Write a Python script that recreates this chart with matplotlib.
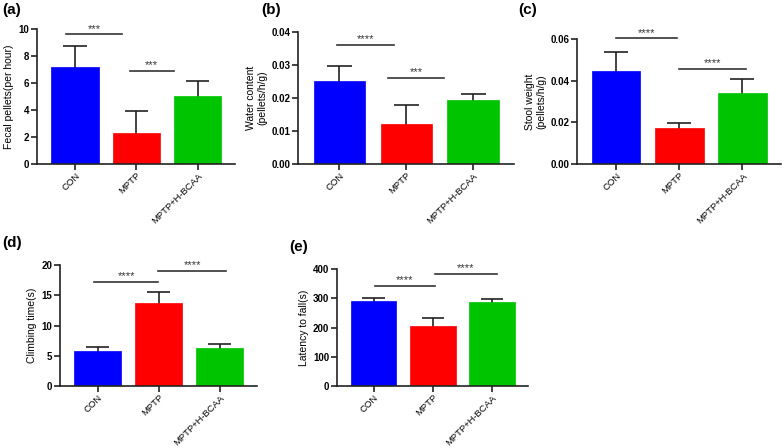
import numpy as np
import matplotlib.pyplot as plt

plt.rcParams['font.family'] = ['Liberation Sans', 'DejaVu Sans']

groups = ['CON', 'MPTP', 'MPTP+H-BCAA']
colors = ['#0000ff', '#ff0000', '#00c400']

# means and upper SD
fecal_mean = [7.2, 2.3, 5.0]
fecal_err = [1.55, 1.65, 1.15]
water_mean = [0.0253, 0.012, 0.0195]
water_err = [0.0043, 0.006, 0.0018]
stool_mean = [0.0447, 0.0172, 0.0343]
stool_err = [0.009, 0.0025, 0.0067]
climb_mean = [5.8, 13.7, 6.35]
climb_err = [0.65, 1.8, 0.65]
latency_mean = [292, 206, 288]
latency_err = [8, 27, 9]

# significance bars: (start, end, height, stars)
fecal_sig = [(-0.14, 0.76, 9.6, '***'), (0.89, 1.61, 6.9, '***')]
water_sig = [(-0.04, 0.81, 0.0362, '****'), (0.73, 1.57, 0.026, '***')]
stool_sig = [(0.0, 0.97, 0.0603, '****'), (1.0, 2.06, 0.0456, '****')]
climb_sig = [(-0.06, 0.99, 17.25, '****'), (0.99, 2.1, 19.0, '****')]
latency_sig = [(0.02, 1.04, 341, '****'), (1.03, 2.08, 383, '****')]

fecal_ticks = [0, 2, 4, 6, 8, 10]
water_ticks = [0.00, 0.01, 0.02, 0.03, 0.04]
stool_ticks = [0.00, 0.02, 0.04, 0.06]
climb_ticks = [0, 5, 10, 15, 20]
latency_ticks = [0, 100, 200, 300, 400]

W, H = 784, 448
fig = plt.figure(figsize=(W / 100, H / 100), dpi=100)


def px_axes(left, right, top, bottom):
    return fig.add_axes([left / W, 1 - bottom / H, (right - left) / W, (bottom - top) / H])


def panel(ax, mean, err, sig, ticks, ylabel, fmt):
    x = np.arange(len(groups))
    top = np.array(mean) + np.array(err)
    # error bar (upper only) sits behind the bar
    ax.vlines(x, 0, top, color='#222222', lw=1.2, zorder=1)
    ax.hlines(top, x - 0.19, x + 0.19, color='#222222', lw=1.2, zorder=1)
    ax.bar(x, mean, width=0.77, color=colors, edgecolor=colors, linewidth=0.5, zorder=2)
    for x0, x1, y, s in sig:
        ax.plot([x0, x1], [y, y], color='#333333', lw=1.2, clip_on=False)
        ax.annotate(s, ((x0 + x1) / 2, y), xytext=(0, 0.5), textcoords='offset points',
                    ha='center', va='bottom', fontsize=8, color='#333333',
                    annotation_clip=False)
    ax.set_xlim(-0.62, 2.61)
    ax.set_ylim(ticks[0], ticks[-1])
    ax.set_yticks(ticks)
    ax.set_yticklabels([fmt.format(t) for t in ticks], fontsize=7, fontweight='bold')
    ax.set_xticks(x)
    ax.set_xticklabels(groups, rotation=45, ha='right', rotation_mode='anchor', fontsize=6.8)
    ax.set_ylabel(ylabel, fontsize=7.5, labelpad=3)
    for sp in ['top', 'right']:
        ax.spines[sp].set_visible(False)
    for sp in ['left', 'bottom']:
        ax.spines[sp].set_linewidth(1.2)
        ax.spines[sp].set_color('#222222')
    ax.tick_params(axis='y', width=1.2, length=4, color='#222222', pad=1.5)
    ax.tick_params(axis='x', width=1.2, length=4, color='#222222', pad=1)


ax_a = px_axes(37, 235, 29, 164)
panel(ax_a, fecal_mean, fecal_err, fecal_sig, fecal_ticks, 'Fecal pellets(per hour)', '{:g}')
ax_b = px_axes(298, 514, 32, 164)
panel(ax_b, water_mean, water_err, water_sig, water_ticks, 'Water content\n(pellets/h/g)', '{:.2f}')
ax_c = px_axes(577, 781, 39, 164)
panel(ax_c, stool_mean, stool_err, stool_sig, stool_ticks, 'Stool weight\n(pellets/h/g)', '{:.2f}')
ax_d = px_axes(60, 257, 265, 386)
panel(ax_d, climb_mean, climb_err, climb_sig, climb_ticks, 'Climbing time(s)', '{:g}')
ax_e = px_axes(337, 528, 269, 386)
panel(ax_e, latency_mean, latency_err, latency_sig, latency_ticks, 'Latency to fall(s)', '{:g}')

for lbl, (px, py) in zip(['(a)', '(b)', '(c)', '(d)', '(e)'],
                         [(2, 3), (261, 3), (518, 3), (2, 236), (289, 240)]):
    fig.text(px / W, 1 - py / H, lbl, fontsize=11, fontweight='bold', va='top', ha='left')

fig.savefig('out.png', dpi=100)
